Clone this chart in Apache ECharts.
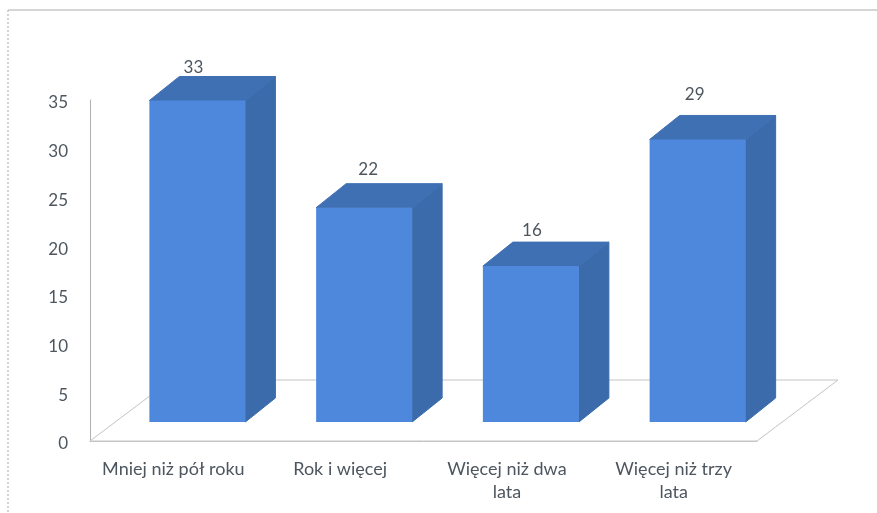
<!DOCTYPE html>
<html>
<head>
<meta charset="utf-8">
<style>
    html, body { margin: 0; padding: 0; background: #fff; }
    #chart { width: 877px; height: 513px; }
</style>
<script src="https://cdn.jsdelivr.net/npm/echarts@6/dist/echarts.min.js"></script>
</head>
<body>
<div id="chart"></div>
<script>
var categories = ['Mniej niż pół roku', 'Rok i więcej', 'Więcej niż dwa\nlata', 'Więcej niż trzy\nlata'];
var values = [33, 22, 16, 29];
var yTicks = [0, 5, 10, 15, 20, 25, 30, 35];

var textColor = '#4d565f';
var fontName = 'Lato';
// how far the bars stand back from the front edge of the floor
var barShiftX = 24, barShiftY = -19;
// depth of one bar, and of the whole floor
var depthX = 30, depthY = -24;
var floorX = 81, floorY = -61;
var barWidth = 96;
// the labels are not placed evenly over the bars in the original
var labelNudgeX = [-4, 4, 1, -3];
var labelNudgeY = [3, -2, 0, -9];

function renderBar(params, api) {
    var i = api.value(0);
    var v = api.value(1);
    var top = api.coord([i, v]);
    var bottom = api.coord([i, 0]);
    var x0 = top[0] - barWidth / 2 + barShiftX;
    var x1 = x0 + barWidth;
    var yt = top[1] + barShiftY;
    var yb = bottom[1] + barShiftY;
    return {
        type: 'group',
        children: [
            {
                type: 'polygon',
                shape: { points: [[x1, yt], [x1 + depthX, yt + depthY], [x1 + depthX, yb + depthY], [x1, yb]] },
                style: { fill: '#3b6bab', stroke: '#3b6bab', lineWidth: 1 }
            },
            {
                type: 'polygon',
                shape: { points: [[x0, yt], [x0 + depthX, yt + depthY], [x1 + depthX, yt + depthY], [x1, yt]] },
                style: { fill: '#3f70b3', stroke: '#3f70b3', lineWidth: 1 }
            },
            {
                type: 'rect',
                shape: { x: x0, y: yt, width: barWidth, height: yb - yt },
                style: { fill: '#4d88dc' }
            },
            {
                type: 'text',
                x: (x0 + x1) / 2 + labelNudgeX[i],
                y: yt + depthY - 12 + labelNudgeY[i],
                style: {
                    text: String(v),
                    fill: textColor,
                    font: '17px ' + fontName,
                    align: 'center',
                    verticalAlign: 'middle'
                }
            }
        ]
    };
}

function renderFloor(params) {
    var c = params.coordSys;
    var b = c.y + c.height;
    var r = c.x + c.width;
    return {
        type: 'polygon',
        shape: { points: [[c.x, b], [r, b], [r + floorX, b + floorY], [c.x + floorX, b + floorY]] },
        style: { fill: 'none', stroke: '#c4c4c4', lineWidth: 1 }
    };
}

var chart = echarts.init(document.getElementById('chart'));
chart.setOption({
    backgroundColor: '#ffffff',
    animation: false,
    graphic: [
        {
            type: 'line',
            shape: { x1: 8, y1: 10, x2: 8, y2: 513 },
            style: { stroke: '#a8a8a8', lineWidth: 1, lineDash: [2, 2] }
        },
        {
            type: 'line',
            shape: { x1: 8, y1: 10, x2: 877, y2: 10 },
            style: { stroke: '#c8c8c8', lineWidth: 1.5 }
        }
    ],
    grid: { left: 90, right: 120, top: 100, bottom: 72 },
    xAxis: {
        type: 'category',
        data: categories,
        axisTick: { show: false },
        axisLine: { lineStyle: { color: '#c4c4c4' } },
        axisLabel: { interval: 0, color: textColor, fontFamily: fontName, fontSize: 18, lineHeight: 23, margin: 17 }
    },
    yAxis: {
        type: 'value',
        min: yTicks[0],
        max: yTicks[yTicks.length - 1],
        interval: yTicks[1] - yTicks[0],
        splitLine: { show: false },
        axisTick: { show: false },
        axisLine: { show: true, lineStyle: { color: '#b0b0b0' } },
        // small lineHeight with top align drops the numbers a little below the tick
        axisLabel: { color: textColor, fontFamily: fontName, fontSize: 17, margin: 22, verticalAlign: 'top', lineHeight: 6 }
    },
    series: [
        { type: 'custom', renderItem: renderFloor, data: [0], z: 1, silent: true },
        {
            type: 'custom',
            renderItem: renderBar,
            encode: { x: 0, y: 1 },
            data: values.map(function (v, i) { return [i, v]; }),
            z: 2
        }
    ]
});
</script>
</body>
</html>
